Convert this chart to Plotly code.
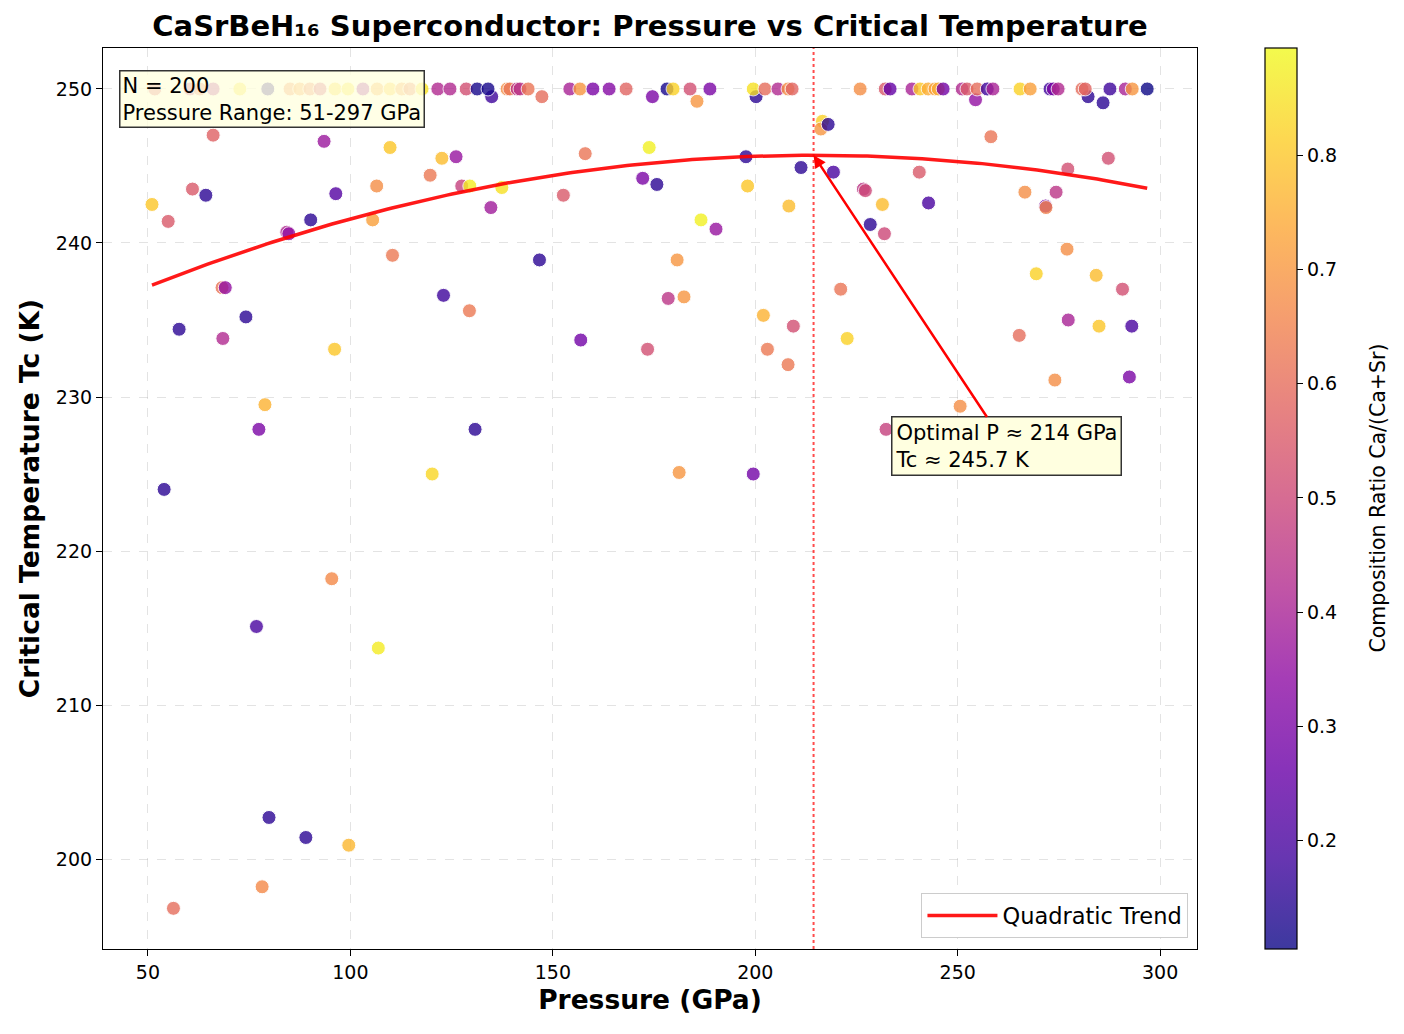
import numpy as np
import plotly.graph_objects as go

# ---------------- data ----------------
pressure = [
    51.0, 55.0, 61.0, 64.3, 66.1, 57.7, 54.0, 68.3, 69.1, 68.5,
    74.2, 77.4, 78.9, 84.3, 84.8, 90.2, 96.4, 106.5, 105.5, 110.4,
    134.7, 96.1, 123.0, 129.4, 130.8, 120.2, 95.4, 76.8, 106.9, 79.9,
    89.0, 99.6, 78.2, 56.3, 93.5, 109.8, 122.6, 126.1, 119.7, 127.5,
    129.5, 137.4, 152.6, 158.0, 173.8, 197.7, 211.3, 219.3, 172.2, 175.7,
    198.1, 208.3, 186.6, 190.3, 226.7, 227.2, 231.4, 228.4, 231.9, 146.7,
    180.7, 178.5, 182.4, 221.1, 202.0, 209.4, 222.7, 156.9, 173.4, 203.0,
    208.1, 232.3, 181.2, 199.5, 258.2, 240.5, 287.2, 277.2, 266.6, 274.3,
    242.8, 271.7, 271.8, 277.0, 269.4, 284.2, 290.7, 277.3, 284.9, 293.0,
    265.2, 274.0, 292.4, 250.6, 216.6, 216.2, 218.0,
    134.9, 147.3, 174.6, 185.6, 200.2, 254.4, 282.2, 285.9,
    51.7, 60.4, 62.8, 66.1, 72.7, 79.6, 85.1, 87.5, 90.0, 92.5,
    96.2, 99.4, 103.1, 106.6, 109.8, 112.7, 114.7, 117.7, 121.6, 124.6,
    128.6, 131.3,
    134.0, 138.7, 139.4, 141.2, 141.9, 143.9, 154.2, 156.7, 159.9, 163.9,
    168.1, 178.2, 179.7, 183.9, 188.8, 199.5, 202.4, 205.6, 208.1, 209.1,
    225.9, 232.1, 233.3, 238.7, 240.7, 242.7, 244.4, 245.2, 246.4, 251.1,
    252.3, 254.8, 257.3, 258.7, 265.4, 267.9, 272.8, 273.6, 274.8, 280.7,
    281.5, 287.6, 291.4, 293.1, 296.8,
]
tc = [
    242.5, 241.4, 243.5, 243.1, 247.0, 234.4, 224.0, 237.1, 237.1, 233.8,
    235.2, 227.9, 229.5, 240.7, 240.6, 241.5, 243.2, 243.7, 241.5, 239.2,
    242.3, 233.1, 236.6, 235.6, 227.9, 225.0, 218.2, 215.1, 213.7, 202.7,
    201.4, 200.9, 198.2, 196.8, 246.6, 246.2, 245.5, 245.6, 244.4, 243.7,
    243.7, 243.6, 243.1, 245.8, 246.2, 245.6, 244.9, 244.6, 244.2, 243.8,
    243.7, 242.4, 241.5, 240.9, 243.5, 243.4, 242.5, 241.2, 240.6, 238.9,
    238.9, 236.4, 236.5, 237.0, 235.3, 234.6, 233.8, 233.7, 233.1, 233.1,
    232.1, 227.9, 225.1, 225.0, 246.9, 244.6, 245.5, 244.8, 243.3, 243.3,
    242.6, 242.4, 242.3, 239.6, 238.0, 237.9, 237.0, 235.0, 234.6, 234.6,
    234.0, 231.1, 231.3, 229.4, 247.9, 247.4, 247.7,
    249.5, 249.5, 249.5, 249.2, 249.5, 249.3, 249.5, 249.1,
    250, 250, 250, 250, 250, 250, 250, 250, 250, 250,
    250, 250, 250, 250, 250, 250, 250, 250, 250, 250,
    250, 250,
    250, 250, 250, 250, 250, 250, 250, 250, 250, 250,
    250, 250, 250, 250, 250, 250, 250, 250, 250, 250,
    250, 250, 250, 250, 250, 250, 250, 250, 250, 250,
    250, 250, 250, 250, 250, 250, 250, 250, 250, 250,
    250, 250, 250, 250, 250,
]
ratio = [
    0.80, 0.55, 0.55, 0.15, 0.57, 0.15, 0.15, 0.62, 0.35, 0.42,
    0.15, 0.30, 0.76, 0.42, 0.35, 0.15, 0.22, 0.68, 0.72, 0.63,
    0.38, 0.80, 0.18, 0.63, 0.15, 0.83, 0.67, 0.20, 0.87, 0.15,
    0.15, 0.77, 0.67, 0.60, 0.37, 0.80, 0.78, 0.36, 0.63, 0.48,
    0.87, 0.85, 0.55, 0.62, 0.88, 0.15, 0.15, 0.20, 0.30, 0.15,
    0.80, 0.78, 0.88, 0.36, 0.45, 0.50, 0.78, 0.15, 0.50, 0.15,
    0.70, 0.45, 0.70, 0.62, 0.76, 0.52, 0.82, 0.28, 0.52, 0.63,
    0.63, 0.48, 0.70, 0.28, 0.62, 0.55, 0.52, 0.52, 0.68, 0.45,
    0.20, 0.30, 0.65, 0.68, 0.82, 0.78, 0.52, 0.40, 0.80, 0.20,
    0.60, 0.68, 0.30, 0.68, 0.82, 0.70, 0.15,
    0.18, 0.60, 0.30, 0.70, 0.15, 0.35, 0.15, 0.15,
    0.55, 0.45, 0.60, 0.40, 0.85, 0.12, 0.65, 0.70, 0.62, 0.50,
    0.82, 0.85, 0.35, 0.72, 0.80, 0.70, 0.62, 0.85, 0.42, 0.42,
    0.52, 0.12,
    0.12, 0.68, 0.62, 0.45, 0.45, 0.62, 0.40, 0.70, 0.30, 0.32,
    0.58, 0.12, 0.82, 0.52, 0.30, 0.85, 0.60, 0.42, 0.68, 0.58,
    0.68, 0.55, 0.25, 0.40, 0.80, 0.75, 0.72, 0.75, 0.28, 0.42,
    0.55, 0.60, 0.18, 0.40, 0.82, 0.72, 0.18, 0.30, 0.42, 0.60,
    0.58, 0.18, 0.40, 0.70, 0.10,
]

ratio_min, ratio_max = 0.105, 0.894
colorbar_ticks = [0.2, 0.3, 0.4, 0.5, 0.6, 0.7, 0.8]
x_ticks = [50, 100, 150, 200, 250, 300]
y_ticks = [200, 210, 220, 230, 240, 250]

# quadratic trend (vertex form)
opt_pressure = 214.4
opt_tc = 245.7
trend_curv = -3.16e-4
n_samples = 200

# ---------------- styling ----------------
plasma_hex = ["#0d0887", "#41049d", "#6a00a8", "#8f0da4", "#b12a90", "#cc4778",
              "#e16462", "#f2844b", "#fca636", "#fcce25", "#f0f921"]
plasma = [[i / 10, c] for i, c in enumerate(plasma_hex)]


def fade(h, a=0.8):
    r, g, b = int(h[1:3], 16), int(h[3:5], 16), int(h[5:7], 16)
    return "rgb(%d,%d,%d)" % tuple(round(v * a + 255 * (1 - a)) for v in (r, g, b))


plasma_faded = [[i / 10, fade(c)] for i, c in enumerate(plasma_hex)]

FONT = "DejaVu Sans"
grid_col = "rgba(176,176,176,0.35)"
TICK = 19

fig = go.Figure()

fig.add_trace(go.Scatter(
    x=pressure, y=tc, mode="markers", showlegend=False,
    marker=dict(size=14, color=ratio, colorscale=plasma, cmin=ratio_min, cmax=ratio_max,
                opacity=0.8, line=dict(color="white", width=1)),
))

# colorbar (faded as in the reference)
fig.add_trace(go.Scatter(
    x=[None], y=[None], mode="markers", showlegend=False,
    marker=dict(color=[0.5], colorscale=plasma_faded, cmin=ratio_min, cmax=ratio_max,
                showscale=True,
                colorbar=dict(x=1.062, xanchor="left", xpad=0, y=0.5, yanchor="middle",
                              ypad=0, len=1, lenmode="fraction", thickness=32,
                              outlinewidth=1.2, outlinecolor="black",
                              ticks="outside", ticklen=6, tickcolor="black",
                              tickvals=colorbar_ticks,
                              tickfont=dict(size=TICK, color="black", family=FONT))),
))

p_line = np.linspace(min(pressure), max(pressure), 200)
tc_line = trend_curv * (p_line - opt_pressure) ** 2 + opt_tc
fig.add_trace(go.Scatter(
    x=p_line, y=tc_line, mode="lines", name="Quadratic Trend",
    line=dict(color="rgba(255,0,0,0.9)", width=3.5),
))

fig.add_shape(type="line", xref="x", yref="paper", x0=opt_pressure, x1=opt_pressure,
              y0=0, y1=1, line=dict(color="rgba(255,0,0,0.7)", width=2, dash="dot"))

fig.add_annotation(
    x=opt_pressure, y=opt_tc, xref="x", yref="y",
    ax=262.0, ay=226.8, axref="x", ayref="y",
    showarrow=True, arrowhead=2, arrowsize=1, arrowwidth=2.5, arrowcolor="red",
    text=f"Optimal P ≈ {opt_pressure:.0f} GPa<br>Tc ≈ {opt_tc:.1f} K",
    align="left", bgcolor="#ffffe0", bordercolor="#333", borderwidth=1.5, borderpad=3,
    font=dict(size=21, color="black", family=FONT),
)

fig.add_annotation(
    xref="paper", yref="paper", x=0.0146, y=0.9756, xanchor="left", yanchor="top",
    showarrow=False, align="left",
    text=f"N = {n_samples}<br>Pressure Range: {min(pressure):.0f}-{max(pressure):.0f} GPa",
    bgcolor="rgba(255,255,224,0.8)", bordercolor="#333", borderwidth=1.5, borderpad=2,
    font=dict(size=21, color="black", family=FONT),
)

# colorbar label
fig.add_annotation(
    xref="paper", yref="paper", x=(1377 - 103) / 1094, y=0.5,
    xanchor="center", yanchor="middle", showarrow=False, textangle=-90,
    text="Composition Ratio Ca/(Ca+Sr)",
    font=dict(size=20.5, color="black", family=FONT),
)

axis_common = dict(
    showline=True, mirror=True, linecolor="black", linewidth=1.2,
    ticks="outside", ticklen=6, tickwidth=1.2, tickcolor="black",
    showgrid=True, gridcolor=grid_col, griddash="dash", gridwidth=1,
    zeroline=False, automargin=False,
    tickfont=dict(size=TICK, color="black", family=FONT),
)

fig.update_layout(
    width=1404, height=1034,
    margin=dict(l=103, r=207, t=48, b=85),
    plot_bgcolor="white", paper_bgcolor="white",
    font=dict(family=FONT, color="black"),
    title=dict(text="<b>CaSrBeH₁₆ Superconductor: Pressure vs Critical Temperature</b>",
               x=0.5, xref="paper", xanchor="center", y=1 - 26 / 1034, yref="container",
               yanchor="middle", font=dict(size=29, color="black", family=FONT)),
    xaxis=dict(range=[38.9, 309.1], tickvals=x_ticks,
               title=dict(text="<b>Pressure (GPa)</b>", standoff=8,
                          font=dict(size=26.5, color="black", family=FONT)),
               **axis_common),
    yaxis=dict(range=[194.16, 252.66], tickvals=y_ticks,
               title=dict(text="<b>Critical Temperature Tc (K)</b>", standoff=8,
                          font=dict(size=26.5, color="black", family=FONT)),
               **axis_common),
    legend=dict(x=0.992, y=0.012, xanchor="right", yanchor="bottom",
                bgcolor="white", bordercolor="#cccccc", borderwidth=1.2,
                itemwidth=70,
                font=dict(size=22.5, color="black", family=FONT)),
)

fig.write_html("out.html")
